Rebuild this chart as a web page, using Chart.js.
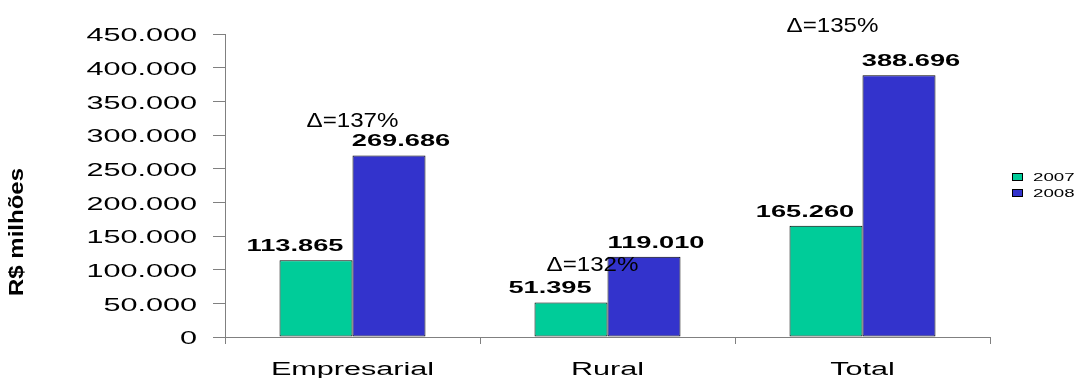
<!DOCTYPE html>
<html>
<head>
<meta charset="utf-8">
<title>R$ milhões 2007 x 2008</title>
<script src="https://cdn.jsdelivr.net/npm/chart.js@4/dist/chart.umd.min.js"></script>
<style>
  body { margin: 0; background: #fff; }
  canvas { display: block; }
</style>
</head>
<body>
<canvas id="chart" width="1080" height="378"></canvas>
<script>
const categories = ['Empresarial', 'Rural', 'Total'];
const years = ['2007', '2008'];
const values2007 = [113865, 51395, 165260];
const values2008 = [269686, 119010, 388696];
const yTicks = [0, 50000, 100000, 150000, 200000, 250000, 300000, 350000, 400000, 450000];

const GREEN = '#00CC99';
const BLUE = '#3333CC';
const AXIS = '#808080';
const FONT = '"Liberation Sans", Arial, sans-serif';
const WIDE = 1.7; // the text in this chart is drawn wide

// 113865 -> "113.865"
function fmt(v) {
  return String(v).replace(/\B(?=(\d{3})+(?!\d))/g, '.');
}

function wideText(ctx, text, x, y, sx, align, baseline) {
  ctx.save();
  ctx.translate(x, y);
  ctx.scale(sx, 1);
  ctx.textAlign = align;
  ctx.textBaseline = baseline;
  ctx.fillText(text, 0, 0);
  ctx.restore();
}

// tick labels, bar values, growth labels, legend and axis title
const textPlugin = {
  id: 'texts',
  afterDraw(chart) {
    const ctx = chart.ctx;
    const x = chart.scales.x;
    const y = chart.scales.y;
    ctx.save();
    ctx.fillStyle = '#000';

    ctx.font = '18px ' + FONT;
    y.ticks.forEach((t, i) => {
      wideText(ctx, fmt(t.value), 197, y.getPixelForTick(i) + 2.5, WIDE, 'right', 'middle');
    });
    x.ticks.forEach((t, i) => {
      wideText(ctx, categories[i], x.getPixelForTick(i), 375, WIDE, 'center', 'alphabetic');
    });

    // value labels sit a little apart: 2007 to the left, 2008 to the right
    const shift = [-21, 12];
    ctx.font = 'bold 16px ' + FONT;
    chart.data.datasets.forEach((ds, d) => {
      chart.getDatasetMeta(d).data.forEach((bar, i) => {
        wideText(ctx, fmt(ds.data[i]), bar.x + shift[d], bar.y - 9, WIDE, 'center', 'alphabetic');
      });
    });

    // growth 2007 -> 2008 above each group
    const dx = [0, -15, -30];
    const dy = [-28, 14, -43];
    ctx.font = '21px ' + FONT;
    chart.getDatasetMeta(1).data.forEach((bar, i) => {
      const pct = Math.round((values2008[i] / values2007[i] - 1) * 100);
      wideText(ctx, '\u0394=' + pct + '%', x.getPixelForValue(i) + dx[i], bar.y + dy[i], 1.15, 'center', 'alphabetic');
    });

    // legend
    ctx.font = '11px ' + FONT;
    chart.data.datasets.forEach((ds, d) => {
      const cy = 177 + d * 16;
      ctx.fillStyle = ds.backgroundColor;
      ctx.fillRect(1012, cy - 4, 11, 8);
      ctx.strokeStyle = '#000';
      ctx.lineWidth = 1;
      ctx.strokeRect(1012.5, cy - 3.5, 10, 7);
      ctx.fillStyle = '#000';
      wideText(ctx, ds.label, 1033, cy + 0.5, WIDE, 'left', 'middle');
    });

    ctx.font = 'bold 20px ' + FONT;
    ctx.save();
    ctx.translate(23, 232);
    ctx.rotate(-Math.PI / 2);
    wideText(ctx, 'R$ milhões', 0, 0, 1.2, 'center', 'alphabetic');
    ctx.restore();

    ctx.restore();
  }
};

new Chart(document.getElementById('chart'), {
  type: 'bar',
  data: {
    labels: categories,
    datasets: [
      { label: years[0], data: values2007, backgroundColor: GREEN },
      { label: years[1], data: values2008, backgroundColor: BLUE }
    ]
  },
  options: {
    responsive: false,
    animation: false,
    devicePixelRatio: 1,
    layout: { padding: { top: 34, right: 90, bottom: 0, left: 0 } },
    datasets: {
      bar: {
        categoryPercentage: 0.5725,
        barPercentage: 1,
        borderColor: '#000',
        borderWidth: 1,
        borderSkipped: false
      }
    },
    plugins: {
      legend: { display: false },
      tooltip: { enabled: false }
    },
    scales: {
      x: {
        grid: { offset: true, drawOnChartArea: false, drawTicks: true, tickLength: 7, color: AXIS },
        border: { color: AXIS },
        ticks: { display: false },
        afterFit(scale) { scale.height = 41; }
      },
      y: {
        min: 0,
        max: 450000,
        afterBuildTicks(scale) { scale.ticks = yTicks.map(v => ({ value: v })); },
        grid: { drawOnChartArea: false, drawTicks: true, tickLength: 12, color: AXIS },
        border: { color: AXIS },
        ticks: { display: false },
        afterFit(scale) { scale.width = 225; }
      }
    }
  },
  plugins: [textPlugin]
});
</script>
</body>
</html>
